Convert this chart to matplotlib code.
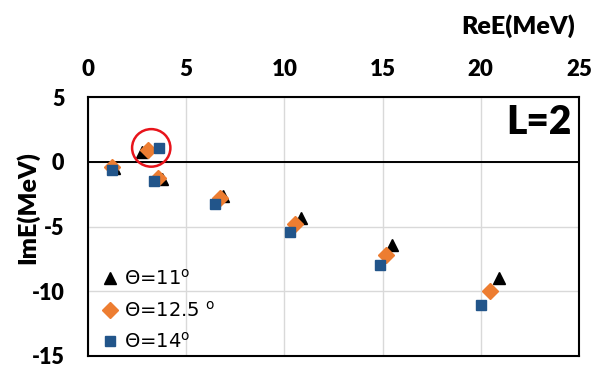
"""Complex-energy trajectories of L=2 resonances for three rotation angles."""

import matplotlib.pyplot as plt
from matplotlib.patches import Ellipse

plt.rcParams["font.family"] = ["Lato", "DejaVu Sans"]
plt.rcParams["mathtext.fontset"] = "dejavusans"
plt.rcParams["axes.unicode_minus"] = False

# (ReE, ImE) in MeV for each rotation angle
re_11 = [1.3, 2.74, 3.76, 6.87, 10.82, 15.49, 20.94]
im_11 = [-0.5, 0.74, -1.31, -2.64, -4.38, -6.44, -8.95]

re_125 = [1.21, 3.08, 3.54, 6.70, 10.56, 15.15, 20.48]
im_125 = [-0.4, 0.92, -1.23, -2.80, -4.82, -7.20, -9.95]

re_14 = [1.21, 3.60, 3.37, 6.48, 10.31, 14.85, 20.00]
im_14 = [-0.6, 1.08, -1.49, -3.23, -5.41, -8.00, -11.05]

x_ticks = [0, 5, 10, 15, 20, 25]
y_ticks = [5, 0, -5, -10, -15]

ORANGE = "#ED7D31"
BLUE = "#22558A"

fig = plt.figure(figsize=(6.03, 3.67), dpi=100)
ax = fig.add_axes([88 / 603, 1 - 356 / 367, 491 / 603, 259 / 367])

ax.plot(re_11, im_11, "^", color="black", ms=9, ls="none",
        label="Θ=11$^{\\mathrm{o}}$")
ax.plot(re_125, im_125, "D", color=ORANGE, ms=8, ls="none",
        label="Θ=12.5 $^{\\mathrm{o}}$")
ax.plot(re_14, im_14, "s", color=BLUE, ms=7.5, ls="none",
        label="Θ=14$^{\\mathrm{o}}$")

# highlight the bound-like state near the origin
ax.add_patch(Ellipse((3.22, 1.07), 1.95, 2.9, fill=False,
                     edgecolor="#E8141B", lw=1.8, zorder=5))

ax.axhline(0, color="black", lw=1.4, zorder=1)
ax.set_xlim(0, 25)
ax.set_ylim(-15, 5)
ax.set_xticks(x_ticks)
ax.set_yticks(y_ticks)
ax.grid(True, color="#D9D9D9", lw=1.0)
ax.set_axisbelow(True)
ax.xaxis.tick_top()
ax.tick_params(length=0, labelsize=16)
ax.tick_params(axis="x", pad=12)
ax.tick_params(axis="y", pad=17, labelsize=15.5)
for lbl in ax.get_xticklabels() + ax.get_yticklabels():
    lbl.set_fontweight("heavy")
for sp in ax.spines.values():
    sp.set_linewidth(1.5)
    sp.set_color("black")

fig.text(575 / 603, 1 - 26 / 367, "ReE(MeV)", ha="right", va="center",
         fontsize=18, fontweight="heavy")
fig.text(27 / 603, 1 - 208 / 367, "ImE(MeV)", ha="center", va="center",
         rotation=90, fontsize=18, fontweight="heavy")
ax.text(0.985, 0.9, "L=2", transform=ax.transAxes, ha="right", va="center",
        fontsize=28, fontweight="heavy")

leg = ax.legend(loc="lower left", frameon=False, handletextpad=0.2,
                handlelength=1.0, labelspacing=0.6, borderaxespad=0.0,
                borderpad=0.2, bbox_to_anchor=(0.018, 0.0),
                prop={"family": "DejaVu Sans", "size": 14})

fig.savefig("out.png", dpi=100)
